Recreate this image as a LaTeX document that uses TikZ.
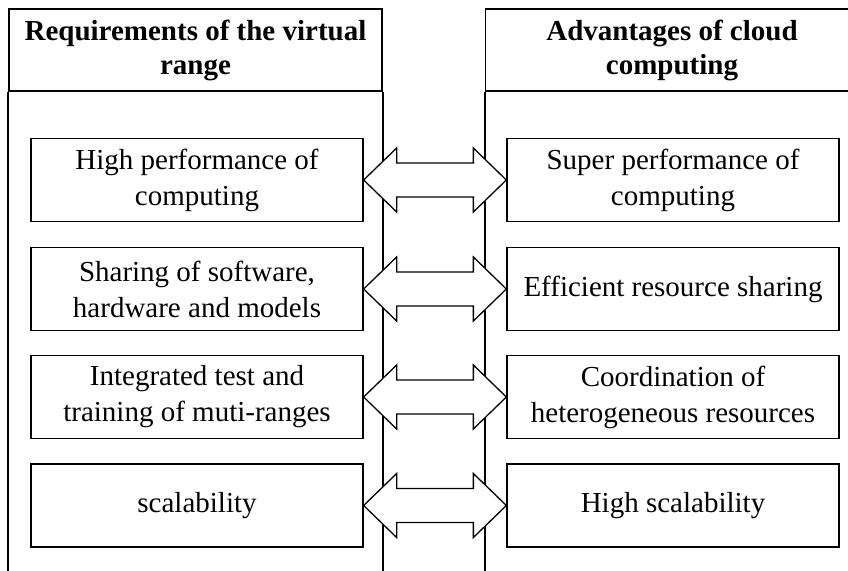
\documentclass[tikz,border=0pt]{standalone}
\usepackage{fontspec}
\setmainfont{Liberation Serif}
\usetikzlibrary{calc}

\tikzset{head_style/.style={draw, line width=1.8pt, minimum width=373pt, minimum height=82pt, align=center, inner sep=0pt, font=\fontsize{29}{34}\selectfont\bfseries}}
\tikzset{box_style/.style={draw, line width=1.3pt, fill=white, minimum width=332pt, minimum height=83pt, align=center, inner sep=0pt, font=\fontsize{29}{36}\selectfont}}
\tikzset{side_style/.style={line width=1.8pt}}
\tikzset{arr_style/.style={draw, line width=1.3pt, fill=white, line join=miter}}

\begin{document}
\begin{tikzpicture}[x=1pt, y=-1pt]
    \useasboundingbox[fill=white] (0,0) rectangle (848,570);
    \clip (0,0) rectangle (848,570);

    % the two columns
    \node[head_style] (req) at (195.5,50) {Requirements of the virtual\\range};
    \node[head_style] (adv) at (672,50) {Advantages of cloud\\computing};
    \draw[side_style] (req.south west) -- ++(0,500);
    \draw[side_style] (req.south east) -- ++(0,500);
    \draw[side_style] (adv.south west) -- ++(0,500);
    \draw[side_style] (adv.south east) -- ++(0,500);

    \node[box_style] (r1) at (197,180) {High performance of\\computing};
    \node[box_style] (r2) at (197,289) {Sharing of software,\\hardware and models};
    \node[box_style] (r3) at (197,397) {Integrated test and\\training of muti-ranges};
    \node[box_style] (r4) at (197,505.5) {scalability};

    \node[box_style] (c1) at (673,180) {Super performance of\\computing};
    \node[box_style] (c2) at (673,289) {Efficient resource sharing};
    \node[box_style] (c3) at (673,397) {Coordination of\\heterogeneous resources};
    \node[box_style] (c4) at (673,505.5) {High scalability};

    % double arrows
    \draw[arr_style] (r1.east) -- ++(33,-32) -- ++(0,15) -- ($(c1.west)+(-33,-17)$) -- ++(0,-15) -- (c1.west) -- ++(-33,32) -- ++(0,-15) -- ($(r1.east)+(33,17)$) -- ++(0,15) -- cycle;
    \draw[arr_style] (r2.east) -- ++(33,-32) -- ++(0,15) -- ($(c2.west)+(-33,-17)$) -- ++(0,-15) -- (c2.west) -- ++(-33,32) -- ++(0,-15) -- ($(r2.east)+(33,17)$) -- ++(0,15) -- cycle;
    \draw[arr_style] (r3.east) -- ++(33,-32) -- ++(0,15) -- ($(c3.west)+(-33,-17)$) -- ++(0,-15) -- (c3.west) -- ++(-33,32) -- ++(0,-15) -- ($(r3.east)+(33,17)$) -- ++(0,15) -- cycle;
    \draw[arr_style] (r4.east) -- ++(33,-32) -- ++(0,15) -- ($(c4.west)+(-33,-17)$) -- ++(0,-15) -- (c4.west) -- ++(-33,32) -- ++(0,-15) -- ($(r4.east)+(33,17)$) -- ++(0,15) -- cycle;

\end{tikzpicture}
\end{document}
